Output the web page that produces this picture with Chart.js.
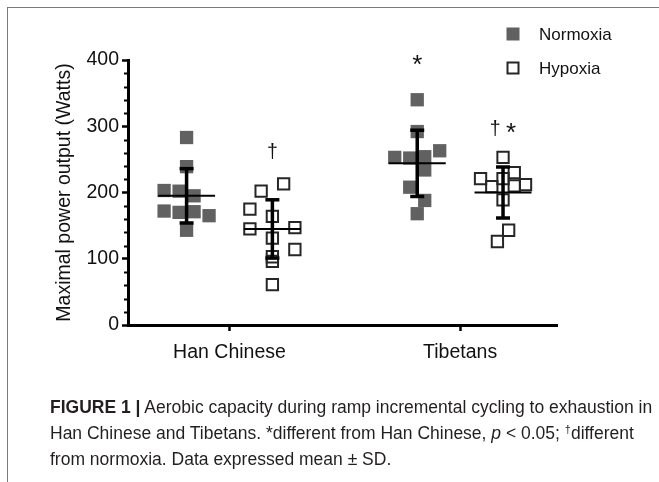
<!DOCTYPE html>
<html>
<head>
<meta charset="utf-8">
<script src="https://cdn.jsdelivr.net/npm/chart.js@4.4.1/dist/chart.umd.min.js"></script>
<style>
  html, body { margin: 0; padding: 0; background: #fff; }
  #wrap { position: relative; width: 659px; height: 482px; overflow: hidden; }
  #chart { position: absolute; left: 0; top: 0; }
  #frame { position: absolute; left: 7px; top: 7px; width: 700px; height: 520px;
           border-left: 1.5px solid #7a7a7a; border-top: 1.5px solid #7a7a7a; }
  #caption { position: absolute; left: 50px; top: 394px; white-space: nowrap;
             font-family: "Liberation Sans", Arial, sans-serif; font-size: 17.5px;
             line-height: 26px; color: #231f20; }
  #caption sup { font-size: 11px; line-height: 0; vertical-align: 6px; }
</style>
</head>
<body>
<div id="wrap">
  <canvas id="chart" width="659" height="482"></canvas>
  <div id="frame"></div>
  <div id="caption"><b>FIGURE 1 |</b> Aerobic capacity during ramp incremental cycling to exhaustion in<br>Han Chinese and Tibetans. *different from Han Chinese, <i>p</i> &lt; 0.05; <sup>†</sup>different<br>from normoxia. Data expressed mean ± SD.</div>
</div>
<script>
const categories = ["Han Chinese", "Tibetans"];
const conditions = ["Normoxia", "Hypoxia"];

// individual subjects (Watts) and their horizontal spread slot in the scatter
const hanNormoxia = [283, 239, 203, 202, 195, 172, 170, 171, 165, 143];
const hanNormoxiaSpread = [0, 0, -3, -1, 1, -3, -1, 1, 3, 0];
const hanHypoxia = [213, 202, 175, 164, 145, 147, 131, 114, 103, 96, 61];
const hanHypoxiaSpread = [1.5, -1.5, -3, 0, -3, 3, 0, 3, 0, 0, 0];
const tibNormoxia = [340, 292, 253, 252, 254, 263, 234, 208, 188, 168];
const tibNormoxiaSpread = [0, 0, -3, -1, 1, 3, 1, -1, 1, 0];
const tibHypoxia = [253, 230, 221, 221, 212, 209, 210, 189, 143, 126];
const tibHypoxiaSpread = [0, 1.5, -3, 0, 3, -1.5, 1.5, 0, 0.75, -0.75];

// mean ± SD per category
const normoxiaMean = [195, 244];
const normoxiaSD = [41, 50];
const hypoxiaMean = [145, 200];
const hypoxiaSD = [44, 38.5];

// significance marks and the value they sit at
const normoxiaMarks = ["", "*"];
const normoxiaMarkAt = [null, 400];
const hypoxiaMarks = ["†", "† *"];
const hypoxiaMarkAt = [262, 297];

const SIDE = 0.186;
const STEP = 0.0325;
const FONT = '"Liberation Sans", Arial, sans-serif';

function groupX(cat, cond) {
  return cat + 1 + (cond === 0 ? -SIDE : SIDE);
}

function points(values, spread, cat, cond) {
  return values.map((v, i) => ({ x: groupX(cat, cond) + spread[i] * STEP, y: v }));
}

const overlay = {
  id: "overlay",
  afterDatasetsDraw(chart) {
    const { ctx } = chart;
    const x = chart.scales.x, y = chart.scales.y;
    const line = (x1, y1, x2, y2) => {
      ctx.beginPath(); ctx.moveTo(x1, y1); ctx.lineTo(x2, y2); ctx.stroke();
    };
    ctx.save();
    ctx.strokeStyle = "#000";
    [[normoxiaMean, normoxiaSD], [hypoxiaMean, hypoxiaSD]].forEach(([means, sds], c) => {
      means.forEach((m, i) => {
        const px = x.getPixelForValue(groupX(i, c));
        const pm = y.getPixelForValue(m);
        const pt = y.getPixelForValue(m + sds[i]);
        const pb = y.getPixelForValue(m - sds[i]);
        ctx.lineWidth = 2;
        line(px - 28.5, pm, px + 28.5, pm);
        ctx.lineWidth = 3.5;
        line(px, pt, px, pb);
        line(px - 7, pt, px + 7, pt);
        line(px - 7, pb, px + 7, pb);
      });
    });
    ctx.restore();
  },
  afterDraw(chart) {
    const { ctx } = chart;
    const x = chart.scales.x, y = chart.scales.y;
    ctx.save();

    // minor ticks on the y axis
    ctx.strokeStyle = "#000";
    ctx.lineWidth = 2;
    const left = chart.chartArea.left;
    for (let v = 20; v < 400; v += 20) {
      if (v % 100 === 0) continue;
      const py = Math.round(y.getPixelForValue(v)) + 0.5;
      ctx.beginPath(); ctx.moveTo(left - 4, py); ctx.lineTo(left, py); ctx.stroke();
    }

    // significance marks, each glyph centred on its value
    ctx.fillStyle = "#111";
    ctx.textAlign = "left";
    ctx.textBaseline = "alphabetic";
    const glyphFont = (ch) => (ch === "*" ? "26px " : "19.5px ") + FONT;
    [[normoxiaMarks, normoxiaMarkAt], [hypoxiaMarks, hypoxiaMarkAt]].forEach(([marks, at], c) => {
      marks.forEach((txt, i) => {
        if (!txt) return;
        const cx = x.getPixelForValue(groupX(i, c));
        const cy = y.getPixelForValue(at[i]);
        const widths = [...txt].map((ch) => { ctx.font = glyphFont(ch); return ctx.measureText(ch).width; });
        let sx = cx - widths.reduce((a, b) => a + b, 0) / 2;
        [...txt].forEach((ch, k) => {
          ctx.font = glyphFont(ch);
          const m = ctx.measureText(ch);
          if (ch !== " ") {
            const base = cy + (m.actualBoundingBoxAscent - m.actualBoundingBoxDescent) / 2;
            ctx.fillText(ch, sx, base);
          }
          sx += widths[k];
        });
      });
    });

    // legend
    ctx.fillStyle = "#616161";
    ctx.fillRect(506.5, 27.5, 13, 13);
    ctx.strokeStyle = "#262626";
    ctx.lineWidth = 2;
    ctx.strokeRect(507.5, 62.5, 11, 11);
    ctx.fillStyle = "#111";
    ctx.font = "17px " + FONT;
    ctx.textBaseline = "middle";
    ctx.fillText(conditions[0], 539, 35);
    ctx.fillText(conditions[1], 539, 69);
    ctx.restore();
  }
};

const axisGrid = {
  display: true,
  drawOnChartArea: false,
  drawTicks: true,
  tickLength: 6,
  tickWidth: 2.5,
  tickColor: "#000"
};

new Chart(document.getElementById("chart"), {
  type: "scatter",
  data: {
    datasets: [
      {
        label: conditions[0],
        data: points(hanNormoxia, hanNormoxiaSpread, 0, 0).concat(points(tibNormoxia, tibNormoxiaSpread, 1, 0)),
        pointStyle: "rect",
        pointRadius: 9.4,
        backgroundColor: "#616161",
        borderWidth: 0
      },
      {
        label: conditions[1],
        data: points(hanHypoxia, hanHypoxiaSpread, 0, 1).concat(points(tibHypoxia, tibHypoxiaSpread, 1, 1)),
        pointStyle: "rect",
        pointRadius: 8,
        backgroundColor: "rgba(0,0,0,0)",
        borderColor: "#262626",
        borderWidth: 2
      }
    ]
  },
  options: {
    responsive: false,
    animation: false,
    events: [],
    layout: { padding: { top: 60, right: 102, bottom: 0, left: 0 } },
    plugins: { legend: { display: false }, tooltip: { enabled: false } },
    scales: {
      x: {
        type: "linear",
        min: 0.56,
        max: 2.42,
        afterBuildTicks: (s) => { s.ticks = categories.map((c, i) => ({ value: i + 1 })); },
        afterFit: (s) => { s.height = 157; },
        ticks: {
          callback: (v) => categories[Math.round(v) - 1],
          font: { family: FONT, size: 19.5 },
          color: "#111",
          padding: 10,
          maxRotation: 0
        },
        grid: axisGrid,
        border: { display: true, color: "#000", width: 3 }
      },
      y: {
        min: 0,
        max: 400,
        afterFit: (s) => { s.width = 128; },
        ticks: {
          stepSize: 100,
          font: { family: FONT, size: 19.5 },
          color: "#111",
          padding: 3
        },
        grid: axisGrid,
        border: { display: true, color: "#000", width: 3 },
        title: {
          display: true,
          text: "Maximal power output (Watts)",
          font: { family: FONT, size: 19.5 },
          color: "#111",
          padding: { top: 53, bottom: 0 }
        }
      }
    }
  },
  plugins: [overlay]
});
</script>
</body>
</html>
